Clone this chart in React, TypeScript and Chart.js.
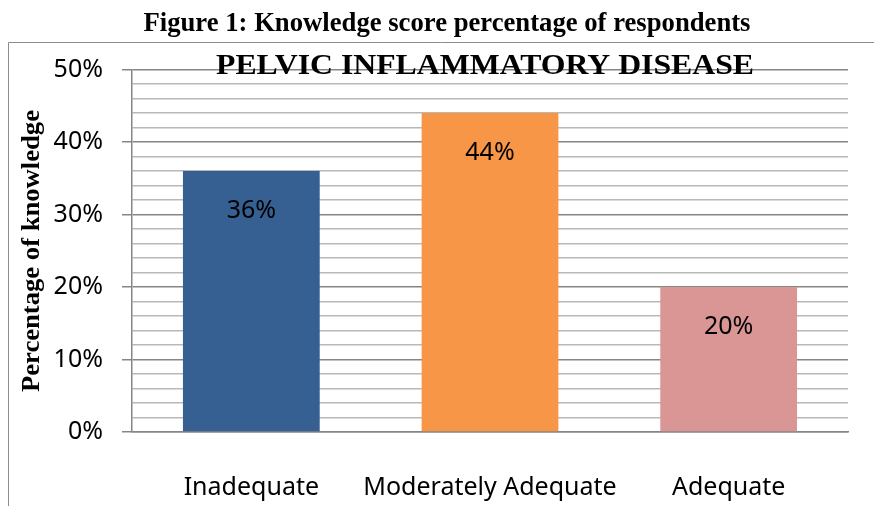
import React, { useEffect, useRef } from "react";
import { Chart, registerables } from "chart.js";

Chart.register(...registerables);

const figureTitle = "Figure 1: Knowledge score percentage of respondents";
const chartTitle = "PELVIC INFLAMMATORY DISEASE";
const yAxisTitle = "Percentage of knowledge";
const categories = ["Inadequate", "Moderately Adequate", "Adequate"];
const values = [36, 44, 20];
const barColors = ["#366092", "#F79646", "#D99694"];
const yMin = 0;
const yMax = 50;
const yStep = 2;
const yLabelStep = 10;

const SANS = "'Noto Sans', sans-serif";
const SERIF = "'Liberation Serif', 'Times New Roman', serif";
const MAJOR = "#868686";
const MINOR = "#b8b8b8";

function drawFit(
  ctx: CanvasRenderingContext2D,
  text: string,
  x: number,
  y: number,
  font: string,
  targetW: number,
  rotate: boolean
) {
  ctx.save();
  ctx.font = font;
  const w = ctx.measureText(text).width;
  ctx.translate(x, y);
  if (rotate) ctx.rotate(-Math.PI / 2);
  ctx.scale(targetW / w, 1);
  ctx.textAlign = "center";
  ctx.textBaseline = "alphabetic";
  ctx.fillStyle = "#000";
  ctx.fillText(text, 0, 0);
  ctx.restore();
}

const decorPlugin = {
  id: "decor",
  beforeDraw(chart: any) {
    const ctx = chart.ctx as CanvasRenderingContext2D;
    ctx.save();
    ctx.fillStyle = "#fff";
    ctx.fillRect(0, 0, chart.width, chart.height);
    ctx.strokeStyle = "#8c8c8c";
    ctx.lineWidth = 1;
    ctx.beginPath();
    ctx.moveTo(8.5, chart.height);
    ctx.lineTo(8.5, 42.5);
    ctx.lineTo(chart.width, 42.5);
    ctx.stroke();
    ctx.restore();
  },
  afterDatasetsDraw(chart: any) {
    const ctx = chart.ctx as CanvasRenderingContext2D;
    const meta = chart.getDatasetMeta(0);
    ctx.save();
    ctx.font = `25px ${SANS}`;
    ctx.fillStyle = "#000";
    ctx.textAlign = "center";
    ctx.textBaseline = "alphabetic";
    meta.data.forEach((bar: any, i: number) => {
      ctx.fillText(values[i] + "%", bar.x, bar.y + 47);
    });
    ctx.restore();
  },
  afterDraw(chart: any) {
    const ctx = chart.ctx as CanvasRenderingContext2D;
    const ca = chart.chartArea;
    drawFit(ctx, figureTitle, 447, 31, `bold 27px ${SERIF}`, 607, false);
    drawFit(ctx, chartTitle, (ca.left + ca.right) / 2 - 5, 74, `bold 29px ${SERIF}`, 538, false);
    drawFit(ctx, yAxisTitle, 39, 251, `bold 25px ${SERIF}`, 282, true);
  },
};

export default function App() {
  const ref = useRef<HTMLCanvasElement | null>(null);
  useEffect(() => {
    if (!ref.current) return;
    const chart = new Chart(ref.current, {
      type: "bar",
      data: {
        labels: categories,
        datasets: [
          {
            data: values,
            backgroundColor: barColors,
            borderWidth: 0,
            categoryPercentage: 1,
            barPercentage: 0.573,
          },
        ],
      },
      options: {
        responsive: false,
        animation: false,
        devicePixelRatio: 1,
        layout: { padding: { top: 69.5, right: 26, left: 0, bottom: 0 } },
        plugins: {
          legend: { display: false },
          tooltip: { enabled: false },
          title: { display: false },
        },
        scales: {
          x: {
            grid: { display: false, drawTicks: false },
            border: { display: true, color: MAJOR, width: 1.5 },
            ticks: {
              color: "#000",
              font: { family: SANS, size: 25 },
              padding: 41,
              maxRotation: 0,
              autoSkip: false,
            },
            afterFit(scale: any) {
              scale.height = 74;
            },
          },
          y: {
            min: yMin,
            max: yMax,
            grid: {
              color: (c: any) => (c.tick && c.tick.value % yLabelStep === 0 ? MAJOR : MINOR),
              tickColor: (c: any) =>
                c.tick && c.tick.value % yLabelStep === 0 ? MAJOR : "rgba(0,0,0,0)",
              tickLength: 10,
              lineWidth: 1.5,
            },
            border: { display: true, color: MAJOR, width: 1.5 },
            ticks: {
              stepSize: yStep,
              autoSkip: false,
              color: "#000",
              font: { family: SANS, size: 25 },
              padding: 19,
              callback: (v: any) => (Number(v) % yLabelStep === 0 ? v + "%" : ""),
            },
            afterFit(scale: any) {
              scale.width = 132;
            },
          },
        },
      },
      plugins: [decorPlugin],
    } as any);
    return () => chart.destroy();
  }, []);
  return (
    <div style={{ position: "absolute", left: 0, top: 0, width: 874, height: 506 }}>
      <canvas ref={ref} width={874} height={506} />
    </div>
  );
}
